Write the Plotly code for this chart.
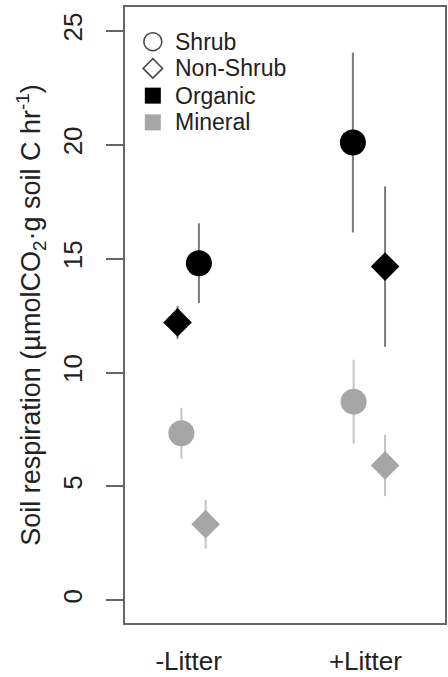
import plotly.graph_objects as go

# Treatment groups on the x axis
groups = ["-Litter", "+Litter"]
group_pos = [1, 2]

# Mean soil respiration and standard error, by horizon and plant cover
organic_shrub = [14.8, 20.1]
organic_shrub_se = [1.75, 3.95]
organic_nonshrub = [12.2, 14.65]
organic_nonshrub_se = [0.72, 3.52]
mineral_shrub = [7.33, 8.72]
mineral_shrub_se = [1.12, 1.84]
mineral_nonshrub = [3.34, 5.92]
mineral_nonshrub_se = [1.07, 1.35]

y_ticks = [0, 5, 10, 15, 20, 25]

FONT = "Liberation Sans, Arial, sans-serif"
TXT = "#222222"
ORG = "#000000"
MIN = "#a6a6a6"
ORG_BAR = "#7a7a7a"
MIN_BAR = "#c4c4c4"

# horizontal dodge of each series within a group (x-axis units)
dodge = {
    "org_shrub": [0.058, -0.071],
    "org_non": [-0.063, 0.111],
    "min_shrub": [-0.041, -0.067],
    "min_non": [0.096, 0.111],
}

fig = go.Figure()


def add_series(vals, se, offs, symbol, size, color, bar_color):
    fig.add_trace(go.Scatter(
        x=[p + o for p, o in zip(group_pos, offs)],
        y=vals,
        mode="markers",
        marker=dict(symbol=symbol, size=size, color=color,
                    line=dict(width=0)),
        error_y=dict(type="data", array=se, visible=True, width=0,
                     thickness=2, color=bar_color),
        showlegend=False,
        hoverinfo="skip",
        cliponaxis=False,
    ))


add_series(mineral_shrub, mineral_shrub_se, dodge["min_shrub"], "circle", 26, MIN, MIN_BAR)
add_series(mineral_nonshrub, mineral_nonshrub_se, dodge["min_non"], "diamond", 22, MIN, MIN_BAR)
add_series(organic_shrub, organic_shrub_se, dodge["org_shrub"], "circle", 26, ORG, ORG_BAR)
add_series(organic_nonshrub, organic_nonshrub_se, dodge["org_non"], "diamond", 22, ORG, ORG_BAR)

# Key in the top-left corner, drawn on a pixel-scaled overlay axis
key_labels = ["Shrub", "Non-Shrub", "Organic", "Mineral"]
key_symbols = ["circle-open", "diamond-open", "square", "square"]
key_sizes = [18, 15, 16, 16]
key_colors = ["#444444", "#444444", ORG, MIN]
key_rows = [35, 62, 89.5, 116.5]

for sym, sz, col, ry, lab in zip(key_symbols, key_sizes, key_colors, key_rows, key_labels):
    open_sym = sym.endswith("-open")
    fig.add_trace(go.Scatter(
        x=[28], y=[ry],
        mode="markers",
        marker=dict(symbol=sym, size=sz, color=col, opacity=1,
                    line=dict(width=1.5 if open_sym else 0, color=col)),
        xaxis="x2", yaxis="y2", showlegend=False, hoverinfo="skip",
    ))
    fig.add_annotation(x=48, y=ry, xref="x2", yref="y2", text=lab,
                       showarrow=False, xanchor="left", yanchor="middle",
                       font=dict(family=FONT, size=23, color=TXT))

fig.update_layout(
    width=448, height=677,
    margin=dict(l=125, r=1, t=7, b=48),
    paper_bgcolor="white", plot_bgcolor="white",
    font=dict(family=FONT, size=26, color=TXT),
    xaxis=dict(
        range=[0.64, 2.45], tickvals=group_pos, ticktext=groups,
        showgrid=False, zeroline=False,
        showline=True, mirror=True, linecolor="#666666", linewidth=1.5,
        ticks="", ticklabelstandoff=14,
        tickfont=dict(family=FONT, size=26, color=TXT),
    ),
    yaxis=dict(
        range=[-1.0, 26.05], tickvals=y_ticks,
        showgrid=False, zeroline=False,
        showline=True, mirror=True, linecolor="#666666", linewidth=1.5,
        ticks="outside", ticklen=17, tickwidth=1.5, tickcolor="#666666",
        tickangle=-90, ticklabelstandoff=14,
        tickfont=dict(family=FONT, size=26, color=TXT),
        title=dict(text="Soil respiration (µmolCO<sub>2</sub>·g soil C hr<sup>-1</sup>)",
                   font=dict(family=FONT, size=27, color=TXT), standoff=9),
    ),
    xaxis2=dict(overlaying="x", range=[0, 322], visible=False),
    yaxis2=dict(overlaying="y", range=[622, 0], visible=False),
)

fig.write_html("out.html")
